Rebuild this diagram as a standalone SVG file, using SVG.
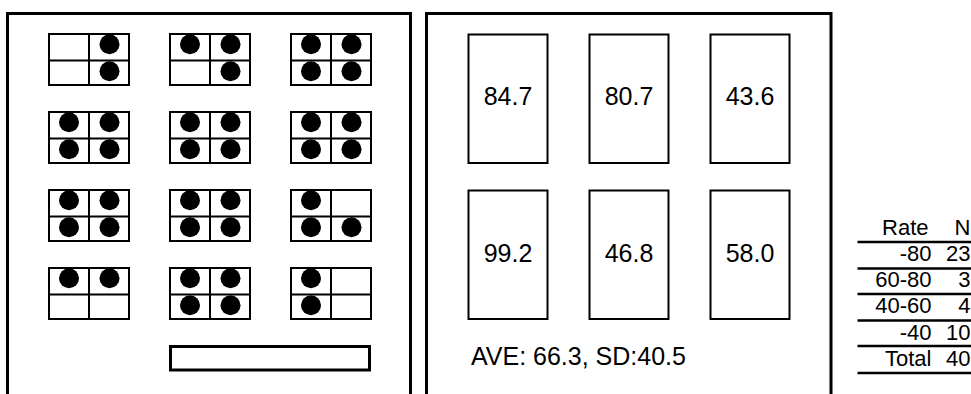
<svg xmlns="http://www.w3.org/2000/svg" width="971" height="394" viewBox="0 0 971 394">
<style>
.panel{fill:none;stroke:#000;stroke-width:3}
.cell{fill:#fff;stroke:#000;stroke-width:2}
.dot{fill:#000}
.box{fill:#fff;stroke:#000;stroke-width:2}
.val{font-family:"Liberation Sans",Arial,sans-serif;font-size:25px;fill:#000;text-anchor:middle}
.tt{font-family:"Liberation Sans",Arial,sans-serif;font-size:22px;fill:#000;text-anchor:end}
.rule{stroke:#000;stroke-width:2.5}
</style>
<defs>
<g id="grid">
<rect class="cell" x="0" y="0" width="80" height="51"/>
<line x1="40" y1="0" x2="40" y2="51" stroke="#000" stroke-width="2"/>
<line x1="0" y1="26.5" x2="80" y2="26.5" stroke="#000" stroke-width="2"/>
</g>
<circle id="d" r="10" class="dot"/>
</defs>
<g id="left-panel">
<path class="panel" d="M7.5,394 V13.5 H410.5 V394"/>
<g id="g11" transform="translate(49,34)"><use href="#grid"/><use href="#d" x="60.5" y="10.3"/><use href="#d" x="60.5" y="37.3"/></g>
<g id="g12" transform="translate(170,34)"><use href="#grid"/><use href="#d" x="20" y="10.3"/><use href="#d" x="60.5" y="10.3"/><use href="#d" x="60.5" y="37.3"/></g>
<g id="g13" transform="translate(291,34)"><use href="#grid"/><use href="#d" x="20" y="10.3"/><use href="#d" x="60.5" y="10.3"/><use href="#d" x="20" y="37.3"/><use href="#d" x="60.5" y="37.3"/></g>
<g id="g21" transform="translate(49,112)"><use href="#grid"/><use href="#d" x="20" y="10.3"/><use href="#d" x="60.5" y="10.3"/><use href="#d" x="20" y="37.3"/><use href="#d" x="60.5" y="37.3"/></g>
<g id="g22" transform="translate(170,112)"><use href="#grid"/><use href="#d" x="20" y="10.3"/><use href="#d" x="60.5" y="10.3"/><use href="#d" x="20" y="37.3"/><use href="#d" x="60.5" y="37.3"/></g>
<g id="g23" transform="translate(291,112)"><use href="#grid"/><use href="#d" x="20" y="10.3"/><use href="#d" x="60.5" y="10.3"/><use href="#d" x="20" y="37.3"/><use href="#d" x="60.5" y="37.3"/></g>
<g id="g31" transform="translate(49,190)"><use href="#grid"/><use href="#d" x="20" y="10.3"/><use href="#d" x="60.5" y="10.3"/><use href="#d" x="20" y="37.3"/><use href="#d" x="60.5" y="37.3"/></g>
<g id="g32" transform="translate(170,190)"><use href="#grid"/><use href="#d" x="20" y="10.3"/><use href="#d" x="60.5" y="10.3"/><use href="#d" x="20" y="37.3"/><use href="#d" x="60.5" y="37.3"/></g>
<g id="g33" transform="translate(291,190)"><use href="#grid"/><use href="#d" x="20" y="10.3"/><use href="#d" x="20" y="37.3"/><use href="#d" x="60.5" y="37.3"/></g>
<g id="g41" transform="translate(49,268)"><use href="#grid"/><use href="#d" x="20" y="10.3"/><use href="#d" x="60.5" y="10.3"/></g>
<g id="g42" transform="translate(170,268)"><use href="#grid"/><use href="#d" x="20" y="10.3"/><use href="#d" x="60.5" y="10.3"/><use href="#d" x="20" y="37.3"/><use href="#d" x="60.5" y="37.3"/></g>
<g id="g43" transform="translate(291,268)"><use href="#grid"/><use href="#d" x="20" y="10.3"/><use href="#d" x="20" y="37.3"/></g>
<g id="bar"><rect x="170.5" y="346.5" width="199" height="23.5" fill="#fff" stroke="#000" stroke-width="3"/></g>
</g>
<g id="right-panel">
<path class="panel" d="M426.5,394 V13.5 H831 V394"/>
<g id="r1"><rect class="box" x="468.5" y="34.5" width="79" height="128.5"/><text class="val" x="508" y="105">84.7</text></g>
<g id="r2"><rect class="box" x="589.5" y="34.5" width="79" height="128.5"/><text class="val" x="629" y="105">80.7</text></g>
<g id="r3"><rect class="box" x="710.5" y="34.5" width="79" height="128.5"/><text class="val" x="750" y="105">43.6</text></g>
<g id="r4"><rect class="box" x="468.5" y="190.5" width="79" height="128.5"/><text class="val" x="508" y="262">99.2</text></g>
<g id="r5"><rect class="box" x="589.5" y="190.5" width="79" height="128.5"/><text class="val" x="629" y="262">46.8</text></g>
<g id="r6"><rect class="box" x="710.5" y="190.5" width="79" height="128.5"/><text class="val" x="750" y="262">58.0</text></g>
<text x="471" y="365" font-family="'Liberation Sans',Arial,sans-serif" font-size="25" fill="#000">AVE: 66.3, SD:40.5</text>
</g>
<g id="table">
<text class="tt" x="928.5" y="234.5">Rate</text><text class="tt" x="970.5" y="234.5">N</text>
<line class="rule" x1="857.5" y1="242" x2="971" y2="242"/>
<text class="tt" x="931.5" y="260.5">-80</text><text class="tt" x="970.5" y="260.5">23</text>
<line class="rule" x1="857.5" y1="268.5" x2="971" y2="268.5"/>
<text class="tt" x="931.5" y="287">60-80</text><text class="tt" x="970.5" y="287">3</text>
<line class="rule" x1="857.5" y1="294" x2="971" y2="294"/>
<text class="tt" x="931.5" y="313">40-60</text><text class="tt" x="970.5" y="313">4</text>
<line class="rule" x1="857.5" y1="320.5" x2="971" y2="320.5"/>
<text class="tt" x="931.5" y="339.5">-40</text><text class="tt" x="970.5" y="339.5">10</text>
<line class="rule" x1="857.5" y1="346" x2="971" y2="346"/>
<text class="tt" x="931.5" y="366">Total</text><text class="tt" x="970.5" y="366">40</text>
<line class="rule" x1="857.5" y1="373" x2="971" y2="373"/>
</g>
</svg>
